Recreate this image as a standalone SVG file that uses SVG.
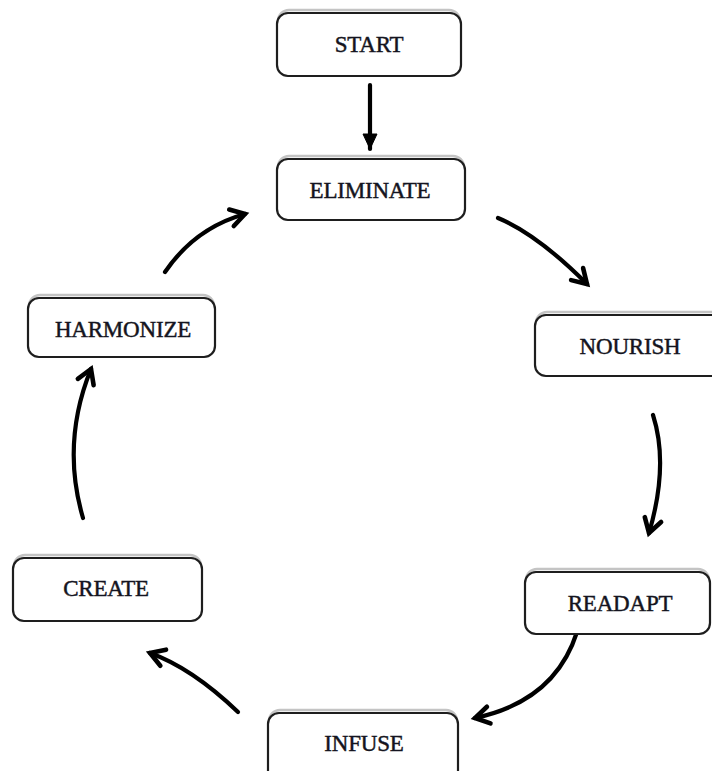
<svg xmlns="http://www.w3.org/2000/svg" width="712" height="771" viewBox="0 0 712 771">
<style>
.box{fill:#ffffff;stroke:#1e1e1e;stroke-width:2.2}
.shadow{fill:none;stroke:#c4c4c4;stroke-width:2.5}
.lbl{font-family:"Liberation Serif","Times New Roman",serif;font-size:23px;fill:#141420;stroke:#141420;stroke-width:0.45;text-anchor:middle;dominant-baseline:central;letter-spacing:-0.2px}
.arc{fill:none;stroke:#000;stroke-width:4.2;stroke-linecap:round}
</style>
<defs>
<marker id="chev" markerUnits="userSpaceOnUse" markerWidth="30" markerHeight="30" refX="0" refY="0" viewBox="-20 -15 30 30" orient="auto" overflow="visible">
<path d="M -14 -8.5 L 0 0 L -14 8.5" fill="none" stroke="#000" stroke-width="4.6" stroke-linecap="round" stroke-linejoin="miter"/>
</marker>
<marker id="tri" markerUnits="userSpaceOnUse" markerWidth="30" markerHeight="30" refX="0" refY="0" viewBox="-20 -15 30 30" orient="auto" overflow="visible">
<path d="M -15 -7 L 0 0 L -15 7 Z" fill="#000" stroke="#000" stroke-width="1"/>
</marker>
</defs>
<rect width="712" height="771" fill="#ffffff"/>
<g id="connectors">
<path class="arc" d="M 370 85 L 370 149" marker-end="url(#tri)"/>
<path class="arc" d="M 498 218 Q 537 234 587 284" marker-end="url(#chev)"/>
<path class="arc" d="M 653 415 Q 669 465 649 533" marker-end="url(#chev)"/>
<path class="arc" d="M 577 632 Q 555 701 475 718" marker-end="url(#chev)"/>
<path class="arc" d="M 238 712 Q 192 668 150 653" marker-end="url(#chev)"/>
<path class="arc" d="M 83 518 Q 61 443 91 369" marker-end="url(#chev)"/>
<path class="arc" d="M 165 272 Q 195 228 245 214" marker-end="url(#chev)"/>
</g>
<g id="start">
<rect class="shadow" x="278" y="10" width="182" height="62" rx="11"/>
<rect class="box" x="277" y="13" width="184" height="63" rx="11"/>
<text class="lbl" x="369" y="44">START</text>
</g>
<g id="eliminate">
<rect class="shadow" x="278" y="156" width="186" height="60" rx="11"/>
<rect class="box" x="277" y="159" width="188" height="61" rx="11"/>
<text class="lbl" x="370" y="190">ELIMINATE</text>
</g>
<g id="nourish">
<rect class="shadow" x="536" y="312" width="190" height="60" rx="11"/>
<rect class="box" x="535" y="315" width="192" height="61" rx="11"/>
<text class="lbl" x="630" y="346">NOURISH</text>
</g>
<g id="readapt">
<rect class="shadow" x="526" y="569" width="183" height="60" rx="11"/>
<rect class="box" x="525" y="572" width="185" height="62" rx="11"/>
<text class="lbl" x="620" y="603">READAPT</text>
</g>
<g id="infuse">
<rect class="shadow" x="269" y="710" width="188" height="70" rx="11"/>
<rect class="box" x="268" y="713" width="190" height="70" rx="11"/>
<text class="lbl" x="364" y="743">INFUSE</text>
</g>
<g id="create">
<rect class="shadow" x="14" y="555" width="187" height="60" rx="11"/>
<rect class="box" x="13" y="558" width="189" height="63" rx="11"/>
<text class="lbl" x="106" y="588">CREATE</text>
</g>
<g id="harmonize">
<rect class="shadow" x="29" y="295" width="185" height="58" rx="11"/>
<rect class="box" x="28" y="298" width="187" height="59" rx="11"/>
<text class="lbl" x="123" y="329">HARMONIZE</text>
</g>
</svg>
